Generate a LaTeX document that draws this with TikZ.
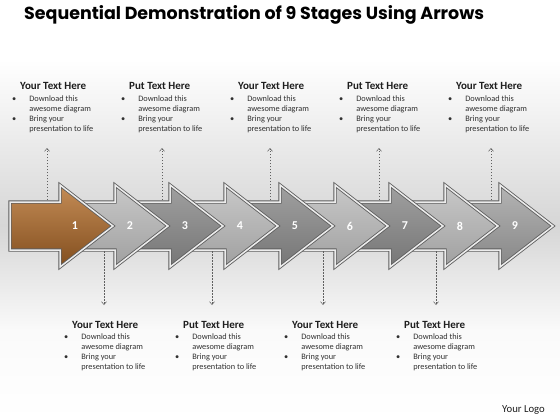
\documentclass[tikz,border=0pt]{standalone}
\usepackage{fontspec}
\setmainfont{Carlito}
\newfontfamily\titlefont{Poppins}
\usetikzlibrary{arrows.meta}
\definecolor{txtgray}{RGB}{30,30,30}
\definecolor{bggray}{RGB}{214,214,214}
\definecolor{rimdark}{RGB}{95,95,95}
\definecolor{rimlight}{RGB}{236,236,236}
\tikzset{
  conn/.style={draw=gray!75!black, line width=0.5pt, dash pattern=on 1.5pt off 1.5pt,
    -{Straight Barb[length=3pt,width=5pt]}},
  head/.style={font=\bfseries\fontsize{11}{12}\selectfont, text=txtgray, inner sep=0pt},
  bodytxt/.style={font=\fontsize{8.3}{10}\selectfont, text=txtgray!80!gray, inner sep=0pt},
  num/.style={font=\bfseries\fontsize{12}{14}\selectfont, text=white, inner sep=0pt},
  arrbrown/.style={top color={rgb,255:red,196;green,140;blue,86}, bottom color={rgb,255:red,130;green,78;blue,30}},
  arrlight/.style={top color={rgb,255:red,200;green,200;blue,200}, bottom color={rgb,255:red,160;green,160;blue,160}},
  arrdark/.style={top color={rgb,255:red,160;green,160;blue,160}, bottom color={rgb,255:red,118;green,118;blue,118}},
  arrmid/.style={top color={rgb,255:red,180;green,180;blue,180}, bottom color={rgb,255:red,135;green,135;blue,135}},
}
\newcommand\txtblock[4]{%
  \node[head, anchor=base west] (#1h) at ({#2+7},{#3}) {#4};
  \node[bodytxt, anchor=north west] (#1b) at ({#2-1},{#3+4}) {%
    \begin{tabular}{@{}l@{\hspace{13pt}}l@{}}
      \textbullet & Download this\\
                  & awesome diagram\\
      \textbullet & Bring your\\
                  & presentation to life
    \end{tabular}};
}
\begin{document}
\begin{tikzpicture}[x=1pt,y=-1pt]
\useasboundingbox (0,0) rectangle (560,420);
% background
\fill[white] (0,0) rectangle (560,60);
\fill[top color=white, bottom color=bggray] (0,59.5) rectangle (560,226);
\fill[top color=bggray, bottom color=white!96!gray] (0,225.5) rectangle (560,330);
\fill[top color=white!96!gray, bottom color=white] (0,329.5) rectangle (560,420);
% title
\node[anchor=base west, inner sep=0pt] (title) at (24,20)
  {\resizebox{460pt}{!}{\titlefont\bfseries Sequential Demonstration of 9 Stages Using Arrows}};
% text blocks top
\txtblock{ta}{13}{90}{Your Text Here}
\txtblock{tb}{122}{90}{Put Text Here}
\txtblock{tc}{231}{90}{Your Text Here}
\txtblock{td}{340}{90}{Put Text Here}
\txtblock{te}{449}{90}{Your Text Here}
% text blocks bottom
\txtblock{ba}{65}{328}{Your Text Here}
\txtblock{bb}{176}{328}{Put Text Here}
\txtblock{bc}{285}{328}{Your Text Here}
\txtblock{bd}{397}{328}{Put Text Here}
% connectors
\foreach \i/\x in {1/47,2/162,3/270,4/379,5/491}{
  \coordinate (us\i) at (\x,215);
  \coordinate (ue\i) at (\x,148);
  \draw[conn] (us\i) -- (ue\i);
}
\foreach \i/\x in {1/104,2/212,3/323,4/436}{
  \coordinate (ds\i) at (\x,236);
  \coordinate (de\i) at (\x,305);
  \draw[conn] (ds\i) -- (de\i);
}
% arrows
\foreach \k/\st in {9/arrmid,8/arrlight,7/arrdark,6/arrlight,5/arrdark,4/arrlight,3/arrdark,2/arrlight,1/arrbrown}{
  \pgfmathsetmacro\s{60+55*(\k-1)}
  \pgfmathsetmacro\t{\s+53}
  \pgfmathsetmacro\b{\k==1 ? 10 : \s-43}
  \path[\st, draw=rimdark, line width=3.2pt, line join=miter]
    (\b,202) -- (\s,202) -- (\s,185) -- (\t,226) -- (\s,267) -- (\s,250) -- (\b,250) -- cycle;
  \draw[rimlight, line width=1.5pt, line join=miter]
    (\b,202) -- (\s,202) -- (\s,185) -- (\t,226) -- (\s,267) -- (\s,250) -- (\b,250) -- cycle;
  \node[num] (n\k) at (\s+15,226) {\k};
}
% logo
\node[anchor=base west, inner sep=0pt, font=\fontsize{10.7}{12}\selectfont, text=txtgray] (logo) at (502,412) {Your Logo};
\end{tikzpicture}
\end{document}
